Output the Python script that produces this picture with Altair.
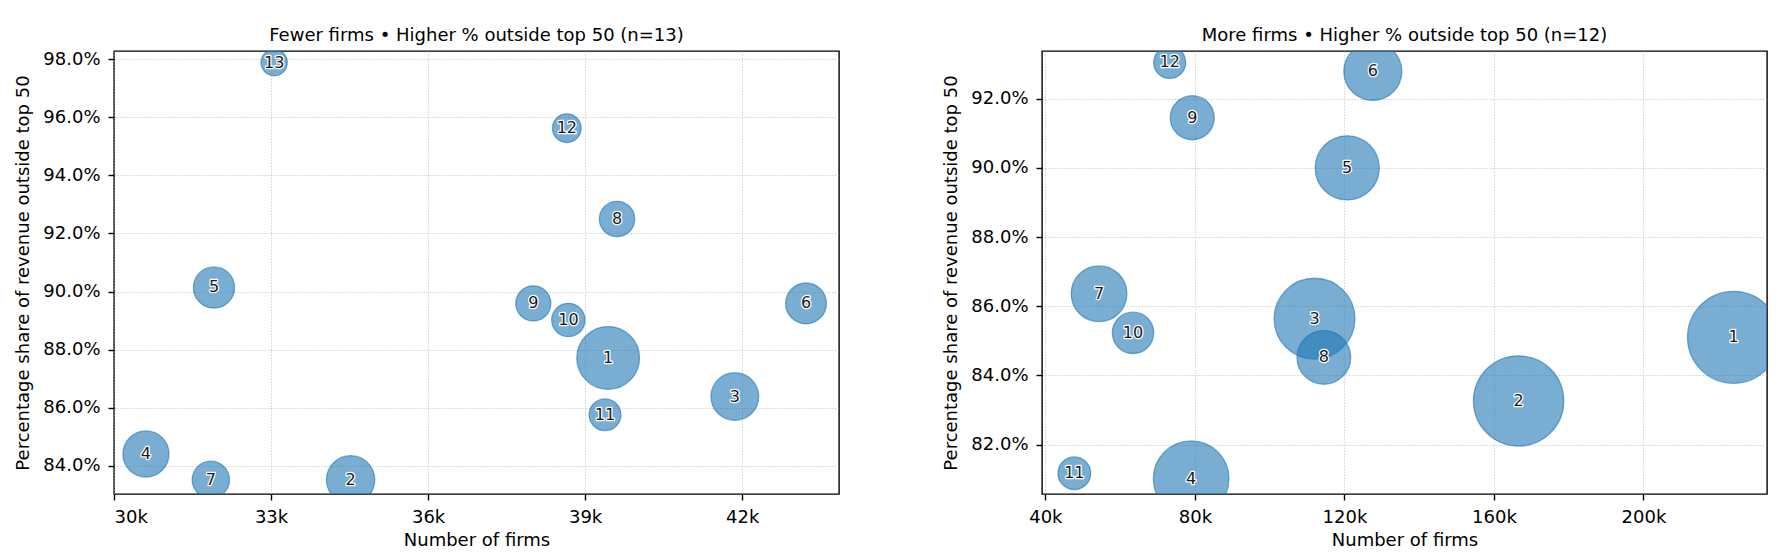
import altair as alt
import pandas as pd

# ---------------- Left panel: fewer firms ----------------
left_label = ["1", "2", "3", "4", "5", "6", "7", "8", "9", "10", "11", "12", "13"]
left_firms = [39440, 34520, 41860, 30610, 31910, 43220, 31850, 39610, 38010, 38680, 39380, 38650, 33060]
left_share = [87.71, 83.51, 86.38, 84.40, 90.14, 89.59, 83.51, 92.50, 89.59, 89.02, 85.75, 95.63, 97.89]
left_weight = [39.3, 23.3, 22.8, 21.2, 16.9, 16.6, 13.9, 12.5, 12.3, 11.1, 10.1, 8.2, 6.9]
left_xticks = [30000, 33000, 36000, 39000, 42000]
left_yticks = [84, 86, 88, 90, 92, 94, 96, 98]

# ---------------- Right panel: more firms ----------------
right_label = ["1", "2", "3", "4", "5", "6", "7", "8", "9", "10", "11", "12"]
right_firms = [224100, 166600, 112000, 79000, 120750, 127600, 54360, 114500, 79300, 63450, 47750, 73260]
right_share = [85.10, 83.26, 85.64, 81.01, 90.00, 92.79, 86.36, 84.52, 91.45, 85.23, 81.17, 93.05]
right_weight = [84.6, 81.5, 65.3, 57.2, 41.0, 33.6, 31.0, 28.8, 19.4, 17.1, 10.7, 10.2]
right_xticks = [40000, 80000, 120000, 160000, 200000]
right_yticks = [82, 84, 86, 88, 90, 92]

FONT = "DejaVu Sans"
W, H = 725, 443


def panel(labels, firms, share, weight, title, xdom, xvals, ydom, yvals):
    df = pd.DataFrame({"label": labels, "firms": firms, "share": share, "weight": weight})
    x = alt.X(
        "firms:Q",
        scale=alt.Scale(domain=xdom, nice=False, zero=False),
        axis=alt.Axis(
            values=xvals,
            labelExpr="format(datum.value / 1000, 'd') + 'k'",
            title="Number of firms",
            titleY=46.7,
            titleBaseline="middle",
        ),
    )
    y = alt.Y(
        "share:Q",
        scale=alt.Scale(domain=ydom, nice=False, zero=False),
        axis=alt.Axis(
            values=yvals,
            labelExpr="format(datum.value, '.1f') + '%'",
            title="Percentage share of revenue outside top 50",
            titleX=-90.6,
            titleY=H / 2,
            titleBaseline="middle",
            titleAngle=270,
        ),
    )
    base = alt.Chart(df).encode(x=x, y=y)
    circles = base.mark_circle(
        clip=True,
        color="#1f77b4",
        fillOpacity=0.6,
        stroke="#1f77b4",
        strokeOpacity=0.6,
        strokeWidth=1.3,
        opacity=1,
    ).encode(
        size=alt.Size("weight:Q", scale=alt.Scale(domain=[0, 100], range=[0, 10000]), legend=None)
    )
    halo = base.mark_text(
        font=FONT, fontSize=16, color="white", stroke="white", strokeWidth=2.5,
        strokeJoin="round", baseline="middle", align="center",
    ).encode(text="label:N")
    text = base.mark_text(
        font=FONT, fontSize=16, color="#1a1a1a", baseline="middle", align="center",
    ).encode(text="label:N")
    return alt.layer(circles, halo, text).properties(
        width=W,
        height=H,
        title=alt.TitleParams(
            text=title, font=FONT, fontSize=18, fontWeight="normal", color="black",
            anchor="middle", baseline="middle", offset=-3.4,
        ),
    )


left = panel(left_label, left_firms, left_share, left_weight,
             "Fewer firms \u2022 Higher % outside top 50 (n=13)",
             [30000, 43850], left_xticks, [83.02, 98.29], left_yticks)
right = panel(right_label, right_firms, right_share, right_weight,
              "More firms \u2022 Higher % outside top 50 (n=12)",
              [39100, 233050], right_xticks, [80.57, 93.38], right_yticks)

chart = (
    alt.hconcat(left, right, spacing=101)
    .resolve_scale(x="independent", y="independent", size="shared")
    .properties(padding={"left": 5, "top": 18, "right": 5, "bottom": 0}, background="white")
    .configure_view(stroke="black", strokeWidth=1.4)
    .configure_axis(
        labelFont=FONT, labelFontSize=18, labelColor="black",
        titleFont=FONT, titleFontSize=18, titleFontWeight="normal", titleColor="black",
        tickColor="black", tickWidth=1.4, tickSize=6, labelPadding=8,
        domain=False,
        grid=True, gridColor="#b0b0b0", gridDash=[1.5, 1.5], gridWidth=0.8, gridOpacity=0.7,
    )
)

chart.save("out.html", embed_options={"renderer": "svg", "actions": False})
